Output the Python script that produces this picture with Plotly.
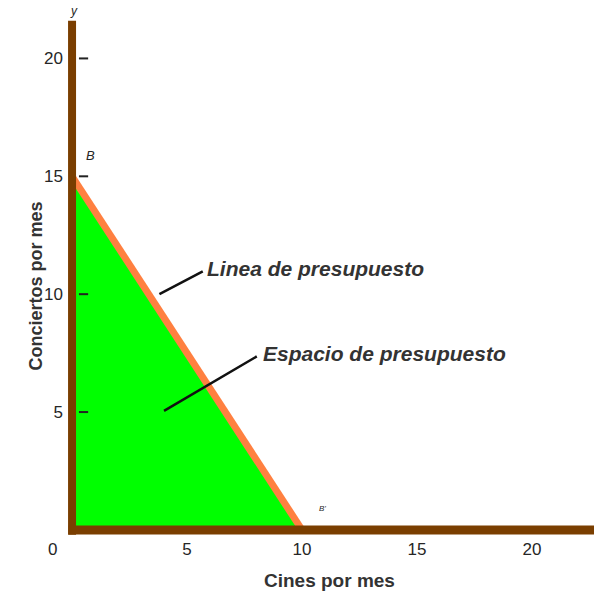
import plotly.graph_objects as go

# Data
budget_x = [0, 10]          # cines por mes
budget_y = [15, 0]          # conciertos por mes
x_ticks = [5, 10, 15, 20]
y_ticks = [5, 10, 15, 20]
x_title = "Cines por mes"
y_title = "Conciertos por mes"
line_label = "Linea de presupuesto"
space_label = "Espacio de presupuesto"

XMIN, XMAX = -0.35, 22.7
YMIN, YMAX = -0.3, 21.8
BROWN = "#7a3e00"
ORANGE = "#ff8040"
GREEN = "#00ff00"
TXT = "#262626"
FONT = "Liberation Sans, Arial, sans-serif"

fig = go.Figure()

# budget space (triangle)
fig.add_trace(go.Scatter(
    x=[0] + budget_x + [0], y=[0] + budget_y + [0],
    fill="toself", fillcolor=GREEN, mode="lines",
    line=dict(color=GREEN, width=0), hoverinfo="skip", showlegend=False))

# small tick dashes on y axis
for t in y_ticks:
    fig.add_shape(type="line", x0=0.3, x1=0.7, y0=t, y1=t,
                  line=dict(color="#222222", width=2), layer="above")

# axes
fig.add_shape(type="line", x0=-0.15, x1=XMAX, y0=0, y1=0,
              line=dict(color=BROWN, width=9), layer="above")
fig.add_shape(type="line", x0=0, x1=0, y0=-0.2, y1=21.6,
              line=dict(color=BROWN, width=8), layer="above")

# budget line
fig.add_trace(go.Scatter(
    x=budget_x, y=budget_y, mode="lines",
    line=dict(color=ORANGE, width=7), hoverinfo="skip", showlegend=False))

lab_font = dict(family=FONT, size=21, color="#333333")
ann = [
    dict(x=3.8, y=10.0, ax=5.75, ay=11.0, axref="x", ayref="y",
         text="", showarrow=True, arrowhead=0, arrowwidth=2.5,
         arrowcolor="#111111"),
    dict(x=5.8, y=11.1, text="<b><i>" + line_label + "</i></b>",
         xanchor="left", showarrow=False, font=lab_font),
    dict(x=4.0, y=5.05, ax=8.1, ay=7.4, axref="x", ayref="y",
         text="", showarrow=True, arrowhead=0, arrowwidth=2.5,
         arrowcolor="#111111"),
    dict(x=8.2, y=7.5, text="<b><i>" + space_label + "</i></b>",
         xanchor="left", showarrow=False, font=lab_font),
    dict(x=0.8, y=15.9, text="<i>B</i>", showarrow=False,
         font=dict(family=FONT, size=13, color=TXT)),
    dict(x=10.9, y=0.9, text="<i>B'</i>", showarrow=False,
         font=dict(family=FONT, size=8, color=TXT)),
    dict(x=0.1, y=YMAX, yshift=5, text="<i>y</i>", showarrow=False,
         font=dict(family=FONT, size=12, color=TXT)),
    dict(x=0, y=0, xshift=-20, yshift=-8, text="0", showarrow=False,
         yanchor="top", font=dict(family=FONT, size=17, color=TXT)),
    dict(x=0.5, y=0, xref="paper", yref="paper", yshift=-31,
         text="<b>" + x_title + "</b>", showarrow=False, yanchor="top",
         font=dict(family=FONT, size=19, color="#333333")),
    dict(x=0, y=0.5, xref="paper", yref="paper", xshift=-41, yshift=-10,
         text="<b>" + y_title + "</b>", showarrow=False, textangle=-90,
         font=dict(family=FONT, size=18, color="#333333")),
]

fig.update_layout(
    width=594, height=592,
    margin=dict(l=64, r=0, t=16, b=55),
    paper_bgcolor="white", plot_bgcolor="white",
    showlegend=False,
    annotations=ann,
    xaxis=dict(range=[XMIN, XMAX], tickvals=x_ticks, showgrid=False,
               zeroline=False, showline=False, ticks="",
               tickfont=dict(family=FONT, size=17, color=TXT)),
    yaxis=dict(range=[YMIN, YMAX], tickvals=y_ticks, showgrid=False,
               zeroline=False, showline=False, ticks="",
               tickfont=dict(family=FONT, size=17, color=TXT)),
)

fig.write_html("out.html", config={"displayModeBar": False},
               post_script="document.body.style.margin='0';document.body.style.overflow='hidden';")
